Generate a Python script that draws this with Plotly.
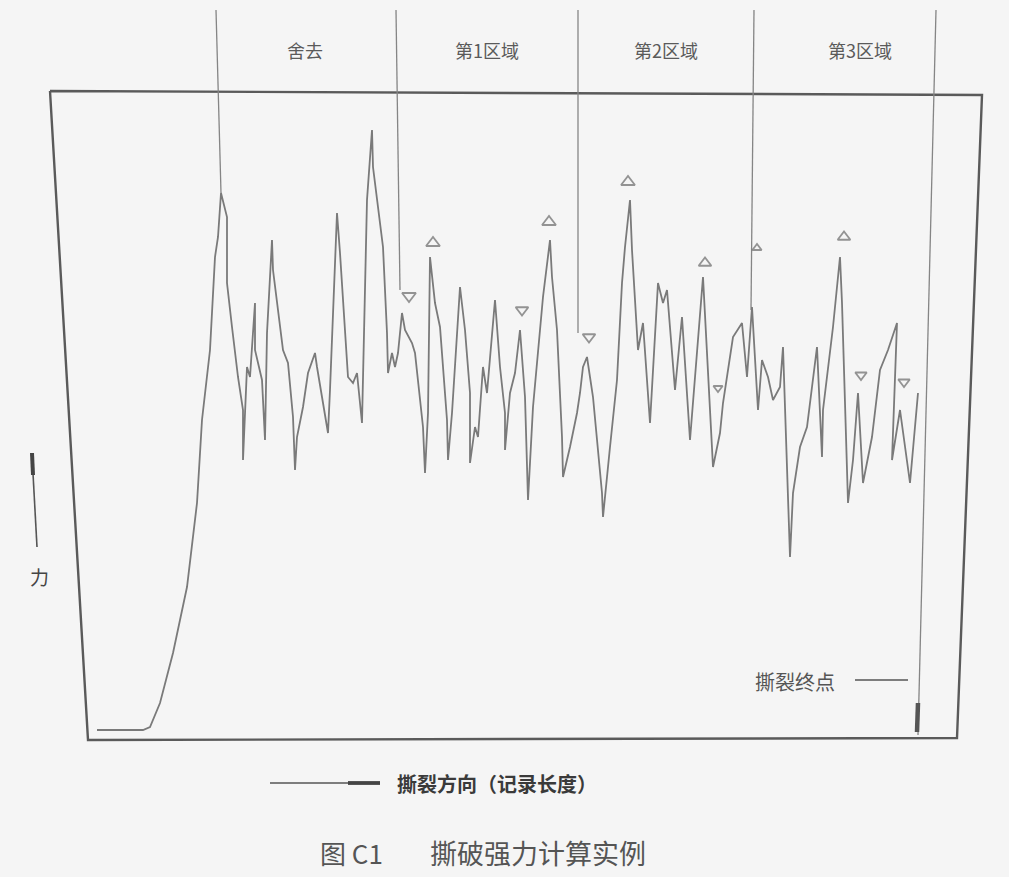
import plotly.graph_objects as go

# ---- data (record length vs force, baseline = 0) ----
record_len = [97, 143, 150, 160, 173, 187, 197, 202, 210, 215, 218, 221,
              227, 227, 232, 238, 243, 243, 247, 250, 255, 255, 262, 265, 267, 272, 273,
              283, 288, 293, 295, 297, 303, 308, 315, 317, 328, 330, 337, 340, 348, 353,
              357, 362, 367, 370, 372, 373, 383, 387, 388, 392, 395, 398, 402, 405, 412,
              415, 423, 425, 428, 430, 435, 440, 447, 448, 452, 460, 465, 470, 470, 475,
              478, 483, 487, 495, 500, 505, 505, 510, 515, 520, 525, 528, 533, 543, 550,
              552, 557, 562, 563, 570, 577, 580, 583, 587, 593, 602, 603, 610, 617, 622,
              625, 630, 632, 638, 643, 650, 658, 663, 667, 675, 682, 690, 703, 713, 720,
              723, 733, 742, 747, 752, 755, 758, 762, 768, 773, 780, 783, 785, 790, 793,
              800, 807, 817, 822, 823, 833, 840, 842, 845, 848, 853, 858, 863, 872, 880,
              888, 897, 892, 900, 910, 918]
force = [10, 10, 13, 37, 87, 153, 237, 320, 390, 483, 503, 547,
         523, 457, 413, 363, 330, 280, 373, 363, 437, 390, 360, 300, 407, 500, 470,
         390, 377, 323, 270, 303, 333, 367, 387, 373, 307, 350, 527, 487, 363, 357,
         367, 317, 540, 577, 610, 573, 493, 407, 367, 387, 373, 387, 427, 410, 397,
         387, 313, 267, 327, 483, 437, 413, 320, 280, 327, 453, 410, 347, 277, 313,
         303, 373, 347, 440, 373, 327, 290, 347, 367, 410, 343, 240, 333, 443, 500,
         463, 410, 303, 263, 293, 327, 347, 373, 383, 343, 247, 223, 293, 360, 457,
         493, 540, 490, 390, 417, 317, 457, 437, 450, 350, 423, 300, 463, 273, 307,
         337, 403, 417, 363, 433, 387, 330, 380, 363, 340, 353, 393, 333, 183, 247,
         293, 313, 393, 283, 330, 413, 483, 437, 347, 237, 280, 347, 257, 303, 370,
         390, 417, 280, 330, 257, 347]

# peak (▲) and valley (▽) marks
peak_x = [433, 549, 628, 705, 757, 844]
peak_f = [497, 518, 558, 477, 492, 503]
peak_size = [12, 12, 12, 11, 8, 11]
valley_x = [409, 522, 589, 718, 861, 904]
valley_f = [444, 430, 403, 352, 365, 358]
valley_size = [12, 11, 11, 8, 10, 10]

# zone separator lines: x at top, x where they meet the trace, force there
zone_top_x = [216, 396, 578, 754, 936]
zone_end_x = [221, 400, 578, 751, 918]
zone_end_f = [547, 450, 407, 430, 5]
zone_top_f = 730
zone_labels = ["舍去", "第1区域", "第2区域", "第3区域"]
zone_label_x = [305, 487, 666, 860]

# recorder frame corners
frame_x = [50, 982, 957, 88, 50]
frame_f = [649, 645, 2, 0, 649]

line_col = "#7a7a7a"
fig = go.Figure()

# frame
fig.add_trace(go.Scatter(x=frame_x, y=frame_f, mode="lines",
                         line=dict(color="#5a5a5a", width=2.4), hoverinfo="skip"))
# zone separators
for xt, xe, fe in zip(zone_top_x, zone_end_x, zone_end_f):
    fig.add_trace(go.Scatter(x=[xt, xe], y=[zone_top_f, fe], mode="lines",
                             line=dict(color="#858585", width=1.3), hoverinfo="skip"))
# tear end thick mark
fig.add_trace(go.Scatter(x=[918, 917], y=[37, 8], mode="lines",
                         line=dict(color="#555555", width=4.5), hoverinfo="skip"))
# trace
fig.add_trace(go.Scatter(x=record_len, y=force, mode="lines",
                         line=dict(color=line_col, width=1.8), hoverinfo="skip"))
# markers
fig.add_trace(go.Scatter(x=peak_x, y=peak_f, mode="markers",
                         marker=dict(symbol="triangle-up-open", size=peak_size,
                                     color="#6a6a6a", line=dict(width=1.8)),
                         hoverinfo="skip"))
fig.add_trace(go.Scatter(x=valley_x, y=valley_f, mode="markers",
                         marker=dict(symbol="triangle-down-open", size=valley_size,
                                     color="#6a6a6a", line=dict(width=1.8)),
                         hoverinfo="skip"))
# force arrow (left)
fig.add_trace(go.Scatter(x=[32, 37], y=[285, 193], mode="lines",
                         line=dict(color="#555555", width=1.6), hoverinfo="skip"))
fig.add_trace(go.Scatter(x=[32, 33], y=[287, 265], mode="lines",
                         line=dict(color="#444444", width=4), hoverinfo="skip"))
# tear direction arrow (bottom)
fig.add_trace(go.Scatter(x=[270, 380], y=[-43, -43], mode="lines",
                         line=dict(color="#555555", width=1.6), hoverinfo="skip"))
fig.add_trace(go.Scatter(x=[348, 380], y=[-43, -43], mode="lines",
                         line=dict(color="#444444", width=3.8), hoverinfo="skip"))
# end point pointer line
fig.add_trace(go.Scatter(x=[855, 908], y=[60, 60], mode="lines",
                         line=dict(color="#555555", width=1.4), hoverinfo="skip"))

font_cjk = "Noto Sans CJK SC"
anns = []
for lab, lx in zip(zone_labels, zone_label_x):
    anns.append(dict(x=lx, y=690, text=lab, showarrow=False,
                     font=dict(family=font_cjk, size=18, color="#5a5a5a")))
anns.append(dict(x=39, y=164, text="力", showarrow=False,
                 font=dict(family=font_cjk, size=19, color="#444444")))
anns.append(dict(x=795, y=59, text="撕裂终点", showarrow=False,
                 font=dict(family=font_cjk, size=20, color="#555555")))
anns.append(dict(x=395, y=-43, text="<b>撕裂方向（记录长度）</b>", showarrow=False, xanchor="left",
                 font=dict(family=font_cjk, size=20, color="#3a3a3a")))
anns.append(dict(x=318, y=-112, text="图 C1", showarrow=False, xanchor="left",
                 font=dict(family=font_cjk, size=26, color="#555555")))
anns.append(dict(x=428, y=-112, text="撕破强力计算实例", showarrow=False, xanchor="left",
                 font=dict(family=font_cjk, size=27, color="#555555")))

fig.update_layout(
    width=1009, height=877,
    margin=dict(l=0, r=0, t=0, b=0),
    paper_bgcolor="#f2f2f2", plot_bgcolor="#f5f5f5",
    showlegend=False,
    xaxis=dict(range=[0, 1009], visible=False, fixedrange=True),
    yaxis=dict(range=[-137, 740], visible=False, fixedrange=True),
    annotations=anns,
)

fig.write_html("out.html", config={"displayModeBar": False, "staticPlot": True},
               post_script="document.body.style.margin='0';document.body.style.background='#f2f2f2';")
